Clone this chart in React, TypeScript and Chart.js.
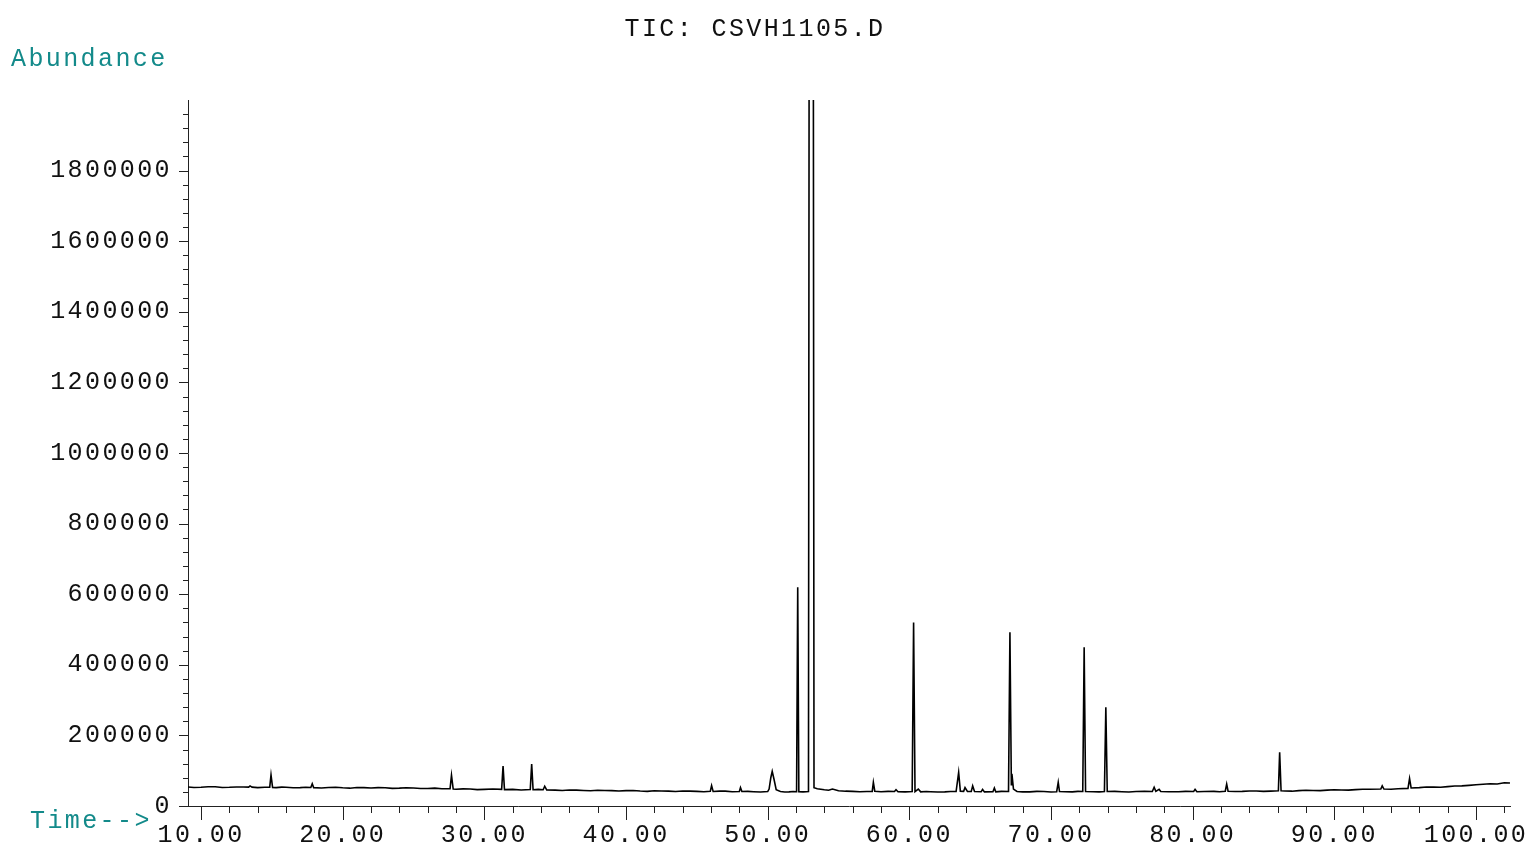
import React, { useEffect, useRef } from 'react';
import { Chart, registerables } from 'chart.js';

Chart.register(...registerables);

const FONT = '"Liberation Mono", "DejaVu Sans Mono", monospace';
const TEAL = '#138a8a';

// Retention time (min) / abundance
const segmentATimes = [9.08, 9.5, 10.0, 10.5, 11.0, 11.5, 12.0, 12.5, 13.0, 13.36, 13.46, 13.6, 14.0, 14.5, 14.85, 14.94, 15.05, 15.3, 15.7, 16.0, 16.5, 17.0, 17.4, 17.75, 17.85, 17.95, 18.5, 19.0, 19.5, 20.0, 20.5, 21.0, 21.5, 22.0, 22.5, 23.0, 23.5, 24.0, 24.5, 25.0, 25.5, 26.0, 26.5, 27.0, 27.58, 27.68, 27.8, 28.0, 28.5, 29.0, 29.5, 30.0, 30.6, 31.22, 31.32, 31.42, 32.0, 32.6, 33.24, 33.34, 33.44, 33.8, 34.15, 34.26, 34.4];
const segmentAValues = [54000, 52500, 53000, 54500, 54500, 52500, 53000, 54000, 54000, 53500, 57000, 53500, 52000, 53000, 53500, 88000, 52500, 52000, 53500, 53000, 51500, 52000, 53000, 52500, 63000, 52000, 51000, 52500, 53000, 51500, 50500, 52500, 52000, 51000, 52000, 51500, 50000, 50500, 51500, 51000, 49500, 49500, 50500, 49000, 49000, 87000, 48000, 47500, 48500, 48000, 46500, 47000, 48000, 47000, 113000, 46500, 47000, 45500, 46500, 119000, 46000, 47000, 46000, 56000, 45500];

const segmentBTimes = [35.0, 35.5, 36.0, 36.5, 37.0, 37.5, 38.0, 38.5, 39.0, 39.5, 40.0, 40.5, 41.0, 41.5, 42.0, 42.5, 43.0, 43.5, 44.0, 44.5, 45.0, 45.5, 45.95, 46.04, 46.15, 46.6, 47.0, 47.5, 48.0, 48.08, 48.18, 48.6, 49.0, 49.5, 50.0, 50.1, 50.22, 50.32, 50.45, 50.6, 50.9, 51.2, 51.5, 51.8, 52.04, 52.12, 52.2, 52.5, 52.88, 53.07, 53.27, 53.5, 54.0, 54.3, 54.57, 55.0, 55.5, 56.0, 56.5, 57.0, 57.38, 57.46, 57.56, 58.0, 58.5, 58.95, 59.06, 59.2, 59.7];
const segmentBValues = [45000, 44000, 45500, 45000, 44000, 43000, 44500, 44000, 43500, 42500, 43500, 44000, 42500, 41500, 43000, 42500, 42000, 41000, 42500, 42000, 41500, 40500, 42000, 58000, 41000, 42000, 42000, 40500, 41000, 52000, 41000, 41500, 40500, 39500, 41000, 48000, 80000, 98000, 75000, 46000, 41000, 39500, 40000, 41000, 40500, 620000, 40500, 40000, 41000, 9000000, 52000, 49000, 46000, 44500, 48000, 43000, 42000, 41500, 40500, 41000, 41500, 67000, 42000, 40500, 41500, 41000, 46000, 40500, 40000];

const segmentCTimes = [60.2, 60.3, 60.4, 60.63, 60.8, 61.2, 61.5, 62.0, 62.5, 62.9, 63.3, 63.48, 63.6, 63.83, 63.93, 64.1, 64.37, 64.47, 64.6, 65.07, 65.17, 65.3, 65.9, 66.0, 66.1, 66.5, 67.0, 67.1, 67.2, 67.24, 67.35, 67.6, 68.0, 68.5, 69.0, 69.5, 70.0, 70.4, 70.51, 70.6, 71.0, 71.5, 71.9, 72.24, 72.34, 72.44, 73.0, 73.4, 73.77, 73.87, 73.97, 74.5, 75.0, 75.5, 76.0, 76.6, 77.15, 77.28, 77.4, 77.63, 77.75, 78.3, 79.0, 79.5, 80.07, 80.17, 80.3, 80.8, 81.5, 81.9, 82.3, 82.4, 82.5, 83.0, 83.5, 84.0, 84.5, 85.0, 85.5, 86.05, 86.14, 86.24, 86.5, 87.0, 87.5, 88.0, 88.5, 89.0, 89.5, 90.0, 90.5, 91.0, 91.5, 92.0, 92.5, 93.28, 93.38, 93.5, 94.0, 94.5, 95.2, 95.31, 95.42, 96.0, 96.5, 97.0, 97.5, 98.0, 98.5, 99.0, 99.5, 100.0, 100.5, 101.0, 101.5, 102.0, 102.4];
const segmentCValues = [41000, 520000, 41000, 48000, 40000, 41000, 40500, 39500, 40000, 41000, 41000, 95000, 42000, 41500, 52000, 41000, 41000, 57000, 41000, 40500, 47000, 40000, 40500, 51000, 40000, 41500, 41000, 492000, 60000, 91000, 48000, 41000, 40000, 40000, 41500, 41000, 39500, 40500, 67000, 41000, 40500, 40000, 41500, 41000, 450000, 41000, 40500, 40000, 41000, 280000, 41000, 41500, 40500, 39500, 41000, 41500, 41000, 53000, 41500, 47000, 41000, 40500, 40500, 41500, 41000, 47000, 40500, 41000, 41500, 40500, 42000, 62000, 42000, 41000, 41500, 42500, 42500, 41500, 42000, 43000, 152000, 43000, 42500, 42000, 43500, 44500, 44000, 43500, 45000, 46000, 45500, 45000, 46500, 47500, 47500, 48000, 57000, 48000, 47500, 49000, 50000, 78000, 51000, 52000, 54000, 53500, 53000, 55000, 56500, 57000, 58500, 60000, 61500, 63000, 62500, 66000, 65000];

const xMajorTicks = [10, 20, 30, 40, 50, 60, 70, 80, 90, 100];
const xMinorTicks = [10, 12, 14, 16, 18, 20, 22, 24, 26, 28, 30, 32, 34, 36, 38, 40, 42, 44, 46, 48, 50, 52, 54, 56, 58, 60, 62, 64, 66, 68, 70, 72, 74, 76, 78, 80, 82, 84, 86, 88, 90, 92, 94, 96, 98, 100, 102];
const yMajorTicks = [0, 200000, 400000, 600000, 800000, 1000000, 1200000, 1400000, 1600000, 1800000];
const yMinorTicks = [0, 40000, 80000, 120000, 160000, 200000, 240000, 280000, 320000, 360000, 400000, 440000, 480000, 520000, 560000, 600000, 640000, 680000, 720000, 760000, 800000, 840000, 880000, 920000, 960000, 1000000, 1040000, 1080000, 1120000, 1160000, 1200000, 1240000, 1280000, 1320000, 1360000, 1400000, 1440000, 1480000, 1520000, 1560000, 1600000, 1640000, 1680000, 1720000, 1760000, 1800000, 1840000, 1880000, 1920000, 1960000];

const X_MIN = 9.08;
const X_MAX = 102.4;
const Y_MAX = 2000000;

const App = () => {
  const ref = useRef<HTMLCanvasElement>(null);

  useEffect(() => {
    document.body.style.margin = '0';
    const times = [...segmentATimes, ...segmentBTimes, ...segmentCTimes];
    const values = [...segmentAValues, ...segmentBValues, ...segmentCValues];
    const points = times.map((t, i) => ({ x: t, y: values[i] }));

    const decor = {
      id: 'decor',
      beforeDraw(chart: any) {
        (chart.ctx as any).letterSpacing = '2.4px';
      },
      afterDraw(chart: any) {
        const ctx = chart.ctx;
        const xs = chart.scales.x;
        const ys = chart.scales.y;
        const area = chart.chartArea;
        ctx.save();
        ctx.strokeStyle = '#222';
        ctx.lineWidth = 1;
        ctx.beginPath();
        yMinorTicks.forEach((v) => {
          const y = Math.round(ys.getPixelForValue(v)) + 0.5;
          ctx.moveTo(area.left - 5, y);
          ctx.lineTo(area.left, y);
        });
        yMajorTicks.forEach((v) => {
          const y = Math.round(ys.getPixelForValue(v)) + 0.5;
          ctx.moveTo(area.left - 9, y);
          ctx.lineTo(area.left, y);
        });
        xMinorTicks.forEach((v) => {
          const x = Math.round(xs.getPixelForValue(v)) + 0.5;
          ctx.moveTo(x, area.bottom);
          ctx.lineTo(x, area.bottom + 7);
        });
        xMajorTicks.forEach((v) => {
          const x = Math.round(xs.getPixelForValue(v)) + 0.5;
          ctx.moveTo(x, area.bottom);
          ctx.lineTo(x, area.bottom + 14);
        });
        ctx.stroke();

        (ctx as any).letterSpacing = '2.4px';
        ctx.font = `25px ${FONT}`;
        ctx.textBaseline = 'alphabetic';
        ctx.fillStyle = '#111';
        ctx.textAlign = 'center';
        ctx.fillText('TIC: CSVH1105.D', 755, 36);
        ctx.fillStyle = TEAL;
        ctx.textAlign = 'left';
        ctx.fillText('Abundance', 11, 66);
        ctx.fillText('Time-->', 30, 828);
        ctx.restore();
      },
    };

    const chart = new Chart(ref.current as HTMLCanvasElement, {
      type: 'line',
      data: {
        datasets: [
          {
            data: points,
            borderColor: '#000',
            borderWidth: 1.6,
            pointRadius: 0,
            tension: 0,
            fill: false,
          },
        ],
      },
      options: {
        animation: false,
        responsive: false,
        devicePixelRatio: 1,
        layout: { padding: { top: 100, right: 23, left: 0, bottom: 0 } },
        plugins: { legend: { display: false }, tooltip: { enabled: false }, title: { display: false } },
        scales: {
          x: {
            type: 'linear',
            min: X_MIN,
            max: X_MAX,
            grid: { display: false, drawTicks: false },
            border: { display: true, color: '#222', width: 1 },
            afterBuildTicks: (s: any) => {
              s.ticks = xMajorTicks.map((v) => ({ value: v }));
            },
            afterFit: (s: any) => {
              s.height = 41;
              s.paddingLeft = 0;
              s.paddingRight = 0;
            },
            ticks: {
              autoSkip: false,
              maxRotation: 0,
              padding: 14,
              color: '#111',
              font: { family: FONT, size: 25 },
              callback: (v: any) => Number(v).toFixed(2),
            },
          },
          y: {
            type: 'linear',
            min: 0,
            max: Y_MAX,
            grid: { display: false, drawTicks: false },
            border: { display: true, color: '#222', width: 1 },
            afterBuildTicks: (s: any) => {
              s.ticks = yMajorTicks.map((v) => ({ value: v }));
            },
            afterFit: (s: any) => {
              s.width = 188;
              s.paddingTop = 0;
              s.paddingBottom = 0;
            },
            ticks: {
              autoSkip: false,
              padding: 16,
              color: '#111',
              font: { family: FONT, size: 25 },
              callback: (v: any) => String(v),
            },
          },
        },
      },
      plugins: [decor],
    });
    return () => chart.destroy();
  }, []);

  return (
    <div style={{ position: 'fixed', left: 0, top: 0, width: 1533, height: 847, background: '#fff' }}>
      <canvas ref={ref} width={1533} height={847} style={{ display: 'block' }} />
    </div>
  );
};

export default App;
